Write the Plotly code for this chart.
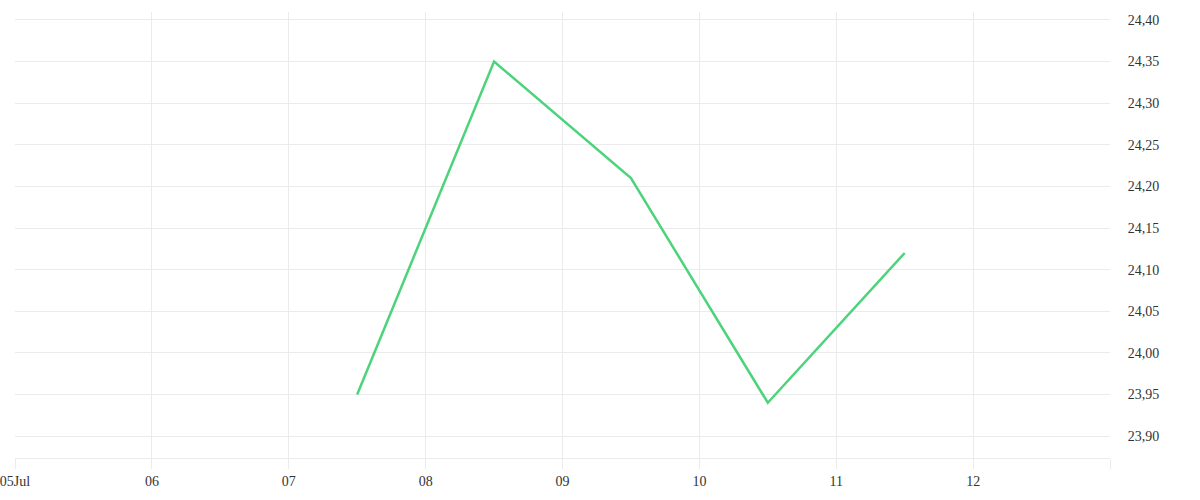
import plotly.graph_objects as go

# daily readings, plotted at midday
dates = ["2023-07-07 12:00", "2023-07-08 12:00", "2023-07-09 12:00",
         "2023-07-10 12:00", "2023-07-11 12:00"]
values = [23.95, 24.35, 24.21, 23.94, 24.12]

tick_dates = ["2023-07-05", "2023-07-06", "2023-07-07", "2023-07-08",
              "2023-07-09", "2023-07-10", "2023-07-11", "2023-07-12", "2023-07-13"]
tick_labels = ["05Jul", "06", "07", "08", "09", "10", "11", "12", ""]

grid = "#ebebeb"
font = dict(family="Liberation Serif, serif", size=14, color="#333333")

fig = go.Figure(go.Scatter(
    x=dates, y=values, mode="lines",
    line=dict(color="#4cd37b", width=2.5),
    showlegend=False,
))

fig.update_layout(
    width=1200, height=500,
    margin=dict(l=15, r=90, t=12, b=42),
    paper_bgcolor="white", plot_bgcolor="white",
    separators=",.",
    font=font,
)
fig.update_xaxes(
    type="date", range=["2023-07-05", "2023-07-13"],
    tickvals=tick_dates, ticktext=tick_labels,
    showgrid=True, gridcolor=grid, gridwidth=1,
    showline=True, linecolor=grid, linewidth=1,
    ticks="outside", ticklen=10, tickcolor=grid,
    zeroline=False, tickfont=font, automargin=False,
    ticklabeloverflow="allow",
)
fig.update_yaxes(
    side="right", range=[23.8736, 24.4096],
    dtick=0.05, tick0=23.9, tickformat=".2f",
    showgrid=True, gridcolor=grid, gridwidth=1,
    showline=False, ticks="outside", ticklen=14, tickcolor="rgba(0,0,0,0)",
    zeroline=False, tickfont=font, automargin=False,
    ticklabeloverflow="allow",
)

# drop the page's default body margin so the chart sits at the window corner
fig.write_html(
    "out.html",
    config={"displayModeBar": False},
    post_script="document.body.style.margin = '0';",
)
